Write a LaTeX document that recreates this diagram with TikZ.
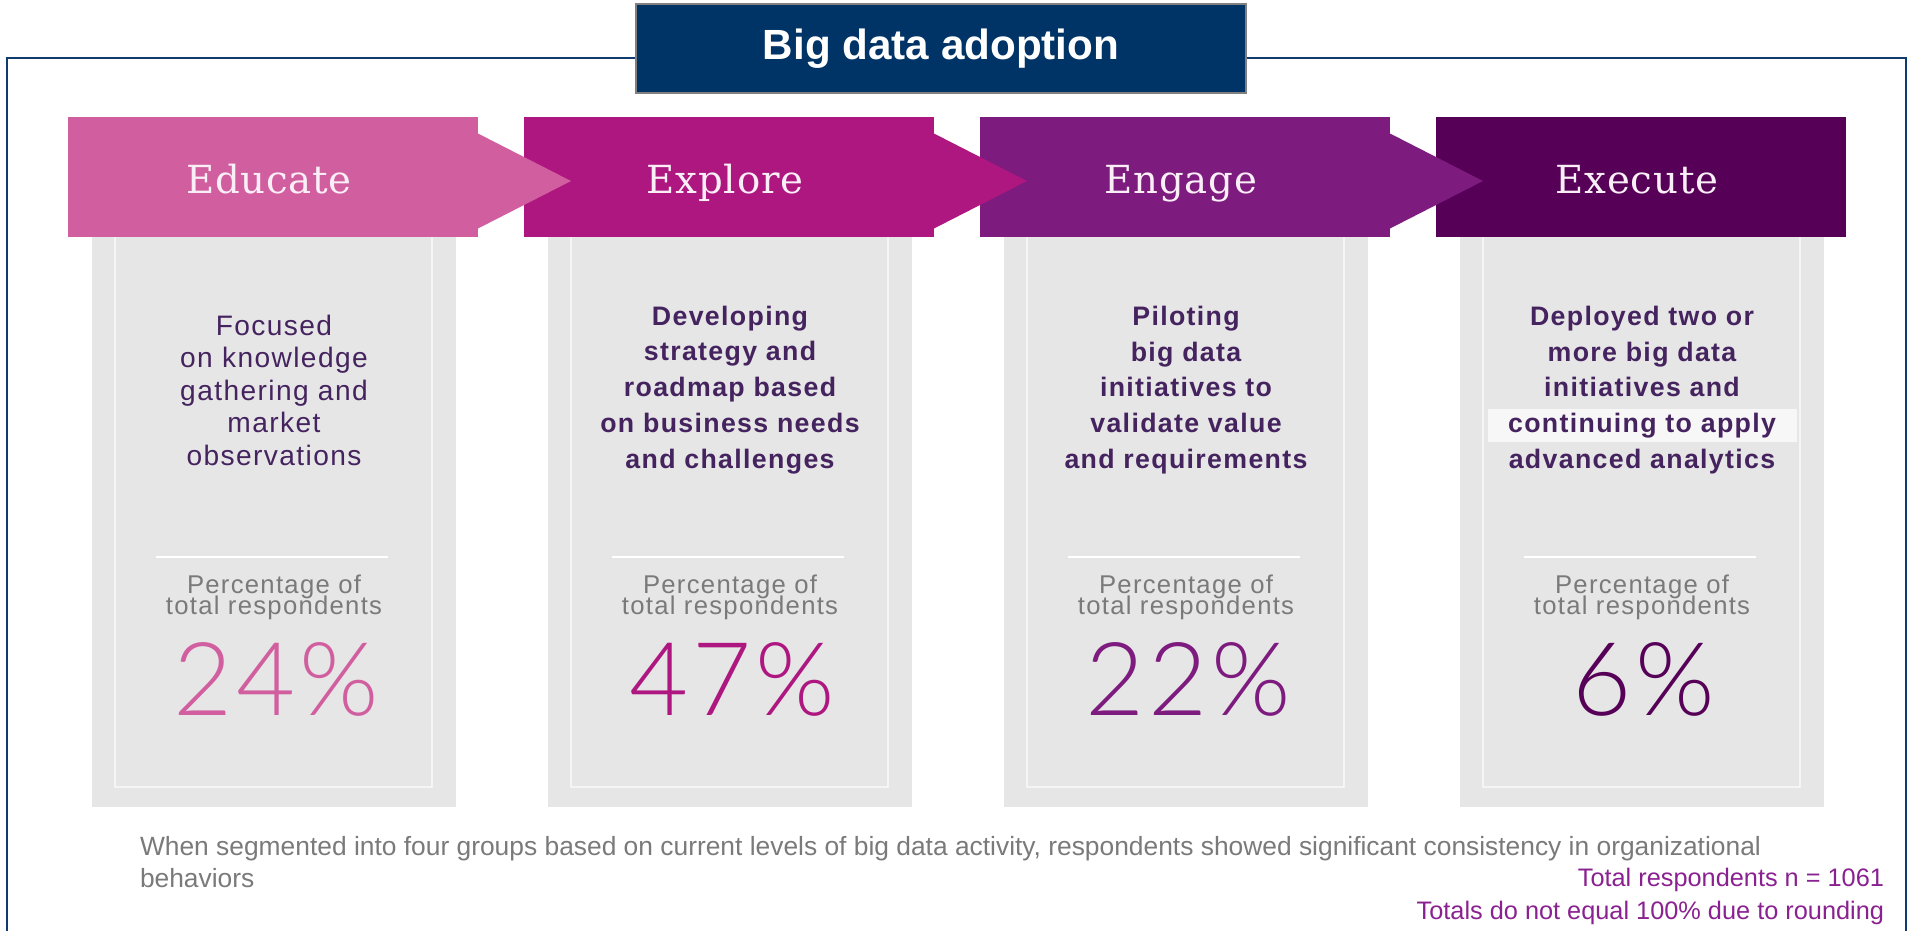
\documentclass[tikz,border=0pt]{standalone}
\usepackage{fontspec}
\setmainfont{Liberation Sans}
\newfontfamily\slabfont{DejaVu Serif}
\newfontfamily\duennfont{Lato Light}
\usetikzlibrary{positioning}
\definecolor{dunkelblau}{HTML}{003366}
\definecolor{rahmenblau}{HTML}{0F3B6F}
\definecolor{stufeA}{HTML}{D15FA0}
\definecolor{stufeB}{HTML}{AE1680}
\definecolor{stufeC}{HTML}{7D1B7E}
\definecolor{stufeD}{HTML}{560057}
\definecolor{hellgrau}{HTML}{E6E6E6}
\definecolor{textlila}{HTML}{45235F}
\definecolor{fusslila}{HTML}{8A2190}
\definecolor{textgrau}{HTML}{7A7A7A}

\tikzset{
  titelbox/.style={fill=dunkelblau, draw=gray, line width=0.6pt,
    minimum width=6.1cm, minimum height=0.89cm, text=white,
    font=\bfseries\fontsize{12}{14}\selectfont},
  stufentext/.style={text=white!90!stufeA, anchor=base,
    font=\slabfont\fontsize{11}{13}\selectfont\addfontfeature{LetterSpace=2}},
  beschr/.style={align=center, text=textlila,
    font=\fontsize{8}{9.25}\selectfont\addfontfeature{LetterSpace=5}},
  beschrfett/.style={align=center, text=textlila,
    font=\bfseries\fontsize{7.6}{10.2}\selectfont\addfontfeature{LetterSpace=5}},
  anteil/.style={anchor=base, text=textgrau,
    font=\fontsize{7.3}{8}\selectfont\addfontfeature{LetterSpace=5}},
  wert/.style={anchor=base,
    font=\duennfont\fontsize{29}{31}\selectfont\addfontfeature{LetterSpace=4}},
  fusstext/.style={font=\fontsize{7.2}{8.8}\selectfont},
}

\begin{document}
\begin{tikzpicture}[x=0.01cm, y=-0.01cm,
    every node/.style={inner sep=0pt, outer sep=0pt}]
  \useasboundingbox (0,0) rectangle (1913,930);
  \clip (0,0) rectangle (1913,930);

  % Rahmen und Titel
  \draw[rahmenblau, line width=0.8pt] (7,58) rectangle (1906,945);
  \node[titelbox] (titel) at (941,48.5) {Big data adoption};

  % Spalten: Hintergrund und Balken
  \foreach \farbe [count=\n from 0] in {stufeA,stufeB,stufeC,stufeD} {
    \pgfmathsetmacro{\lx}{68+456*\n}
    \fill[hellgrau] ({\lx+24},237) rectangle ({\lx+388},807);
    \draw[white!60!hellgrau, line width=0.7pt]
      ({\lx+47},237) -- ({\lx+47},787) -- ({\lx+364},787) -- ({\lx+364},237);
    \draw[white, line width=0.8pt] ({\lx+88},557) -- ({\lx+320},557);
    \fill[\farbe] (\lx,117) rectangle ({\lx+410},237);
  }

  % Pfeilspitzen ueber dem naechsten Balken
  \foreach \farbe [count=\n from 0] in {stufeA,stufeB,stufeC} {
    \pgfmathsetmacro{\lx}{68+456*\n}
    \fill[\farbe] ({\lx+409},133) -- ({\lx+503},181) -- ({\lx+409},229) -- cycle;
  }

  % aufgehellte Zeile in der letzten Spalte
  \fill[white, opacity=0.7] (1488,409) rectangle (1797,442);

  % Beschreibungen
  \node[beschr] (beschr-0) at (274,390)
    {Focused\\on knowledge\\gathering and\\market\\observations};
  \foreach \inhalt [count=\n from 1] in {
      {Developing\\strategy and\\roadmap based\\on business needs\\and challenges},
      {Piloting\\big data\\initiatives to\\validate value\\and requirements},
      {Deployed two or\\more big data\\initiatives and\\continuing to apply\\advanced analytics}} {
    \pgfmathsetmacro{\lx}{68+456*\n}
    \node[beschrfett] (beschr-\n) at ({\lx+206},390) {\inhalt};
  }

  % Stufennamen und Anteile
  \foreach \farbe/\stufe/\wert [count=\n from 0] in {
      stufeA/Educate/24\%, stufeB/Explore/47\%,
      stufeC/Engage/22\%, stufeD/Execute/6\%} {
    \pgfmathsetmacro{\lx}{68+456*\n}
    \node[stufentext] (stufe-\n) at ({\lx+201},193) {\stufe};
    \node[anteil] (anteil-\n) at ({\lx+206},593) {Percentage of};
    \node[anteil] (gesamt-\n) at ({\lx+206},614) {total respondents};
    \node[wert, text=\farbe] (wert-\n) at ({\lx+208},715) {\wert};
  }

  % Fussnoten
  \node[fusstext, text=textgrau, align=left, anchor=west,
    font=\fontsize{7.5}{9}\selectfont] (hinweis) at (140,862)
    {When segmented into four groups based on current levels of big data activity, respondents showed significant consistency in organizational\\behaviors};
  \node[fusstext, text=fusslila, anchor=east] (anzahl) at (1884,880)
    {Total respondents n = 1061};
  \node[fusstext, text=fusslila, anchor=east] (rundung) at (1884,913)
    {Totals do not equal 100\% due to rounding};
\end{tikzpicture}
\end{document}
